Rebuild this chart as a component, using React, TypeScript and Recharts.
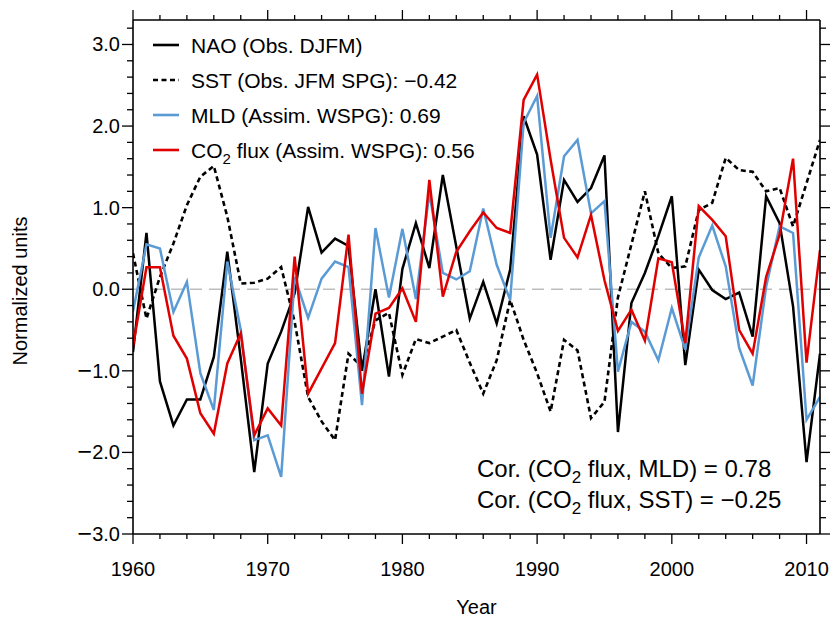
import React from "react"
import { LineChart, Line, XAxis, YAxis, ReferenceLine, Legend } from "recharts"

// North Atlantic indices, normalized, 1960-2011
const years = [
  1960, 1961, 1962, 1963, 1964, 1965, 1966, 1967, 1968, 1969,
  1970, 1971, 1972, 1973, 1974, 1975, 1976, 1977, 1978, 1979,
  1980, 1981, 1982, 1983, 1984, 1985, 1986, 1987, 1988, 1989,
  1990, 1991, 1992, 1993, 1994, 1995, 1996, 1997, 1998, 1999,
  2000, 2001, 2002, 2003, 2004, 2005, 2006, 2007, 2008, 2009,
  2010, 2011,
]

const nao = [
  -0.77, 0.69, -1.13, -1.67, -1.35, -1.35, -0.83, 0.46, -0.85, -2.24,
  -0.91, -0.52, -0.05, 1.01, 0.45, 0.62, 0.53, -1.0, 0.0, -1.07,
  0.25, 0.81, 0.26, 1.4, 0.52, -0.36, 0.09, -0.42, 0.24, 2.12,
  1.65, 0.36, 1.34, 1.07, 1.24, 1.64, -1.75, -0.17, 0.2, 0.65,
  1.14, -0.93, 0.24, -0.01, -0.12, -0.04, -0.58, 1.14, 0.81, -0.21,
  -2.12, -0.79,
]

const sst = [
  0.44, -0.36, 0.15, 0.56, 1.03, 1.38, 1.51, 0.89, 0.07, 0.08,
  0.13, 0.27, -0.4, -1.32, -1.62, -1.85, -0.79, -0.95, -0.38, -0.29,
  -1.05, -0.61, -0.66, -0.58, -0.5, -0.9, -1.28, -0.87, -0.13, -0.62,
  -1.03, -1.5, -0.62, -0.75, -1.58, -1.38, -0.1, 0.55, 1.2, 0.44,
  0.26, 0.28, 0.97, 1.06, 1.61, 1.46, 1.44, 1.2, 1.24, 0.77,
  1.3, 1.83,
]

const mld = [
  -0.27, 0.55, 0.5, -0.28, 0.09, -1.03, -1.48, 0.34, -0.5, -1.85,
  -1.79, -2.3, 0.15, -0.35, 0.13, 0.34, 0.27, -1.42, 0.75, -0.1,
  0.74, -0.12, 1.18, 0.2, 0.12, 0.22, 0.99, 0.3, -0.13, 2.04,
  2.37, 0.63, 1.63, 1.83, 0.93, 1.08, -1.01, -0.4, -0.52, -0.87,
  -0.23, -0.74, 0.39, 0.78, 0.28, -0.72, -1.18, 0.03, 0.77, 0.69,
  -1.6, -1.32,
]

const co2 = [
  -0.7, 0.27, 0.27, -0.57, -0.85, -1.52, -1.77, -0.91, -0.54, -1.79,
  -1.46, -1.67, 0.4, -1.28, -0.97, -0.66, 0.67, -1.28, -0.3, -0.23,
  0.01, -0.4, 1.34, -0.09, 0.46, 0.71, 0.94, 0.75, 0.69, 2.32,
  2.63, 1.59, 0.63, 0.39, 0.91, 0.11, -0.51, -0.25, -0.63, 0.38,
  0.33, -0.66, 1.02, 0.85, 0.65, -0.5, -0.79, 0.15, 0.67, 1.6,
  -0.9, 0.48,
]

const xTicks = [
  1960, 1962, 1964, 1966, 1968, 1970, 1972, 1974, 1976, 1978,
  1980, 1982, 1984, 1986, 1988, 1990, 1992, 1994, 1996, 1998,
  2000, 2002, 2004, 2006, 2008, 2010,
]

const yTicks = [
  -3.0, -2.8, -2.6, -2.4, -2.2, -2.0, -1.8, -1.6, -1.4, -1.2,
  -1.0, -0.8, -0.6, -0.4, -0.2, 0.0, 0.2, 0.4, 0.6, 0.8,
  1.0, 1.2, 1.4, 1.6, 1.8, 2.0, 2.2, 2.4, 2.6, 2.8,
  3.0, 3.2,
]

const FONT = "'Liberation Sans', Arial, Helvetica, sans-serif"
const BLUE = "#5b9bd5"
const RED = "#e00000"

const data = years.map((year, i) => ({
  year,
  nao: nao[i],
  sst: sst[i],
  mld: mld[i],
  co2: co2[i],
}))

const isMajorX = (v: number) => v % 10 === 0
const isMajorY = (v: number) => Math.abs(v - Math.round(v)) < 1e-6

const BottomTick = (props: any) => {
  const { x, y, payload } = props
  const major = isMajorX(payload.value)
  return (
    <g>
      <line x1={x} y1={y} x2={x} y2={y + (major ? 10 : 5)} stroke="#000" strokeWidth={1.3} />
      {major && (
        <text x={x} y={y + 42} textAnchor="middle" fontSize={20} fontFamily={FONT} fill="#000">
          {payload.value}
        </text>
      )}
    </g>
  )
}

const TopTick = (props: any) => {
  const { x, y, payload } = props
  const major = isMajorX(payload.value)
  return <line x1={x} y1={y} x2={x} y2={y - (major ? 10 : 5)} stroke="#000" strokeWidth={1.3} />
}

const LeftTick = (props: any) => {
  const { x, y, payload } = props
  const v = payload.value as number
  const major = isMajorY(v)
  return (
    <g>
      <line x1={x} y1={y} x2={x - (major ? 11 : 6)} y2={y} stroke="#000" strokeWidth={1.3} />
      {major && (
        <text x={x - 13} y={y + 7} textAnchor="end" fontSize={20} fontFamily={FONT} fill="#000">
          {v < -1e-6 && <tspan fontSize={25} dy={1}>{"\u2212"}</tspan>}
          <tspan dy={v < -1e-6 ? -1 : 0}>{Math.abs(v).toFixed(1)}</tspan>
        </text>
      )}
    </g>
  )
}

const RightTick = (props: any) => {
  const { x, y, payload } = props
  const major = isMajorY(payload.value)
  return <line x1={x} y1={y} x2={x + (major ? 10 : 6)} y2={y} stroke="#000" strokeWidth={1.3} />
}

const legendRows = [
  { color: "#000", dash: undefined as string | undefined, label: "NAO (Obs. DJFM)", co2: false },
  { color: "#000", dash: "5 3.5", label: "SST (Obs. JFM SPG): \u22120.42", co2: false },
  { color: BLUE, dash: undefined, label: "MLD (Assim. WSPG): 0.69", co2: false },
  { color: RED, dash: undefined, label: " flux (Assim. WSPG): 0.56", co2: true },
]

const LegendBox = () => (
  <svg width={560} height={170} style={{ display: "block", overflow: "visible" }}>
    {legendRows.map((r, i) => {
      const cy = 45 + i * 35
      return (
        <g key={i}>
          <line x1={153} x2={179} y1={cy} y2={cy} stroke={r.color} strokeWidth={2.6} strokeDasharray={r.dash} />
          <text x={191} y={cy + 7.5} fontSize={21} fontFamily={FONT} fill="#000">
            {r.co2 ? (
              <>
                <tspan>CO</tspan>
                <tspan dy={6} fontSize={15}>2</tspan>
                <tspan dy={-6}>{r.label}</tspan>
              </>
            ) : (
              r.label
            )}
          </text>
        </g>
      )
    })}
  </svg>
)

export default function App() {
  return (
    <div style={{ position: "absolute", left: 0, top: 0, width: 833, height: 620, background: "#fff" }}>
      <LineChart width={833} height={620} data={data} margin={{ top: 10, right: 0, bottom: 0, left: 0 }}>
        <XAxis
          xAxisId="b"
          dataKey="year"
          type="number"
          domain={[1960, 2011]}
          allowDataOverflow
          ticks={xTicks}
          interval={0}
          tickSize={0}
          tickMargin={0}
          tick={BottomTick}
          tickLine={false}
          axisLine={{ stroke: "#000", strokeWidth: 1.6 }}
          height={86}
          label={{ value: "Year", position: "insideBottom", offset: 6, fontSize: 20, fill: "#000", fontFamily: FONT }}
        />
        <XAxis
          xAxisId="t"
          orientation="top"
          dataKey="year"
          type="number"
          domain={[1960, 2011]}
          allowDataOverflow
          ticks={xTicks}
          interval={0}
          tickSize={0}
          tickMargin={0}
          tick={TopTick}
          tickLine={false}
          axisLine={{ stroke: "#000", strokeWidth: 1.6 }}
          height={10}
        />
        <YAxis
          yAxisId="l"
          type="number"
          domain={[-3, 3.3]}
          allowDataOverflow
          ticks={yTicks}
          interval={0}
          tickSize={0}
          tickMargin={0}
          tick={LeftTick}
          tickLine={false}
          axisLine={{ stroke: "#000", strokeWidth: 1.6 }}
          width={133}
          label={{
            content: () => (
              <text x={27} y={291} transform="rotate(-90 27 291)" textAnchor="middle" fontSize={20} fontFamily={FONT} fill="#000">
                Normalized units
              </text>
            ),
          }}
        />
        <YAxis
          yAxisId="r"
          orientation="right"
          type="number"
          domain={[-3, 3.3]}
          allowDataOverflow
          ticks={yTicks}
          interval={0}
          tickSize={0}
          tickMargin={0}
          tick={RightTick}
          tickLine={false}
          axisLine={{ stroke: "#000", strokeWidth: 1.6 }}
          width={13}
        />
        <ReferenceLine xAxisId="b" yAxisId="l" y={0} stroke="#bdbdbd" strokeWidth={1.5} strokeDasharray="12 7" />
        <Line xAxisId="b" yAxisId="l" dataKey="sst" type="linear" stroke="#000" strokeWidth={2.6} strokeDasharray="5 3.5" dot={false} isAnimationActive={false} />
        <Line xAxisId="b" yAxisId="l" dataKey="nao" type="linear" stroke="#000" strokeWidth={2.5} dot={false} isAnimationActive={false} />
        <Line xAxisId="b" yAxisId="l" dataKey="mld" type="linear" stroke={BLUE} strokeWidth={2.5} dot={false} isAnimationActive={false} />
        <Line xAxisId="b" yAxisId="l" dataKey="co2" type="linear" stroke={RED} strokeWidth={2.5} dot={false} isAnimationActive={false} />
        <Legend
          layout="horizontal"
          verticalAlign="middle"
          align="center"
          content={LegendBox}
          wrapperStyle={{ left: 0, top: 0, width: 560, height: 170 }}
        />
        <g fontFamily={FONT} fontSize={24} fill="#000">
          <text x={477} y={476.5}>
            <tspan>Cor. (CO</tspan>
            <tspan dy={6} fontSize={17}>2</tspan>
            <tspan dy={-6}> flux, MLD) = 0.78</tspan>
          </text>
          <text x={477} y={508}>
            <tspan>Cor. (CO</tspan>
            <tspan dy={6} fontSize={17}>2</tspan>
            <tspan dy={-6}> flux, SST) = {"\u2212"}0.25</tspan>
          </text>
        </g>
      </LineChart>
    </div>
  )
}
